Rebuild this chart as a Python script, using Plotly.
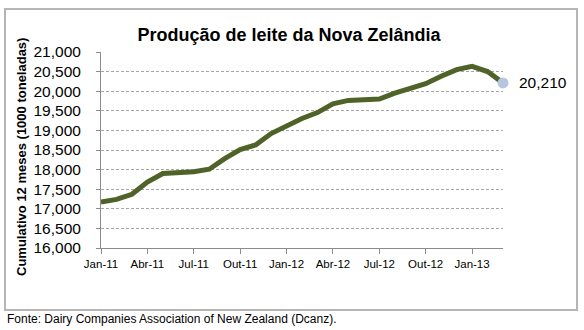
import plotly.graph_objects as go

# Monthly 12-month cumulative milk production (thousand tonnes), Jan-11 .. Mar-13
months = [
    "Jan-11", "Fev-11", "Mar-11", "Abr-11", "Mai-11", "Jun-11", "Jul-11", "Ago-11", "Set-11",
    "Out-11", "Nov-11", "Dez-11", "Jan-12", "Fev-12", "Mar-12", "Abr-12", "Mai-12", "Jun-12",
    "Jul-12", "Ago-12", "Set-12", "Out-12", "Nov-12", "Dez-12", "Jan-13", "Fev-13", "Mar-13",
]
production = [
    17170, 17240, 17370, 17680, 17900, 17925, 17945, 18010, 18280,
    18510, 18630, 18920, 19110, 19305, 19455, 19680, 19765, 19775,
    19800, 19950, 20080, 20190, 20380, 20550, 20635, 20500, 20210,
]
tick_labels = months[::3]
y_ticks = list(range(16000, 21001, 500))

W, H = 584, 330
L, R, T, B = 101, 503, 52, 248  # plot area in pixels


def px_x(p):
    return (p - L) / (R - L)


def px_y(p):
    return (B - p) / (B - T)


fig = go.Figure()
fig.add_trace(go.Scatter(
    x=months, y=production, mode="lines",
    line=dict(color="#4F6228", width=5),
    hoverinfo="skip", showlegend=False,
))
fig.add_trace(go.Scatter(
    x=[months[-1]], y=[production[-1]], mode="markers",
    marker=dict(color="#B7C5DF", size=11),
    cliponaxis=False,
    hoverinfo="skip", showlegend=False,
))

fig.add_annotation(
    x=months[-1], y=production[-1], xref="x", yref="y",
    text=f"{production[-1]:,}", showarrow=False,
    xanchor="left", yanchor="middle", xshift=14,
    font=dict(family="Arial", size=15.5, color="#000000"),
)

# Axis title
fig.add_annotation(
    x=px_x(21), y=px_y(157), xref="paper", yref="paper",
    text="<b>Cumulativo 12 meses (1000 toneladas)</b>", textangle=-90,
    showarrow=False, xanchor="center", yanchor="middle",
    font=dict(family="Arial", size=13, color="#000000"),
)

# Source note
fig.add_annotation(
    x=px_x(5), y=px_y(319), xref="paper", yref="paper",
    text="Fonte: Dairy Companies Association of New Zealand (Dcanz).",
    showarrow=False, xanchor="left", yanchor="middle",
    font=dict(family="Arial", size=12, color="#000000"),
)

# Chart frame
fig.add_shape(
    type="rect", xref="paper", yref="paper",
    x0=px_x(5), x1=px_x(577), y0=px_y(310), y1=px_y(9),
    line=dict(color="#B5B5B5", width=2), fillcolor="rgba(0,0,0,0)", layer="below",
)

fig.update_layout(
    width=W, height=H,
    margin=dict(l=L, r=W - R, t=T, b=H - B, pad=0),
    paper_bgcolor="white", plot_bgcolor="white",
    title=dict(
        text="<b>Produção de leite da Nova Zelândia</b>",
        x=289 / W, y=1 - 35 / H, xanchor="center", yanchor="middle",
        font=dict(family="Arial", size=18, color="#000000"),
    ),
    xaxis=dict(
        type="category", range=[0, len(months) - 1],
        tickmode="array", tickvals=tick_labels, ticktext=tick_labels,
        showgrid=False, zeroline=False,
        showline=True, linecolor="#8C8C8C", linewidth=1,
        ticks="outside", ticklen=5, tickcolor="#8C8C8C",
        tickfont=dict(family="Arial", size=11.5, color="#000000"),
    ),
    yaxis=dict(
        range=[16000, 21000], tickmode="array", tickvals=y_ticks,
        ticktext=[f"{v:,}" for v in y_ticks],
        showgrid=True, gridcolor="#A6A6A6", gridwidth=1, griddash="3px,2px",
        zeroline=False, showline=True, linecolor="#8C8C8C", linewidth=1,
        ticks="outside", ticklen=4, tickcolor="#8C8C8C",
        ticklabelstandoff=12,
        tickfont=dict(family="Arial", size=15.5, color="#000000"),
    ),
)

fig.write_html("out.html")
